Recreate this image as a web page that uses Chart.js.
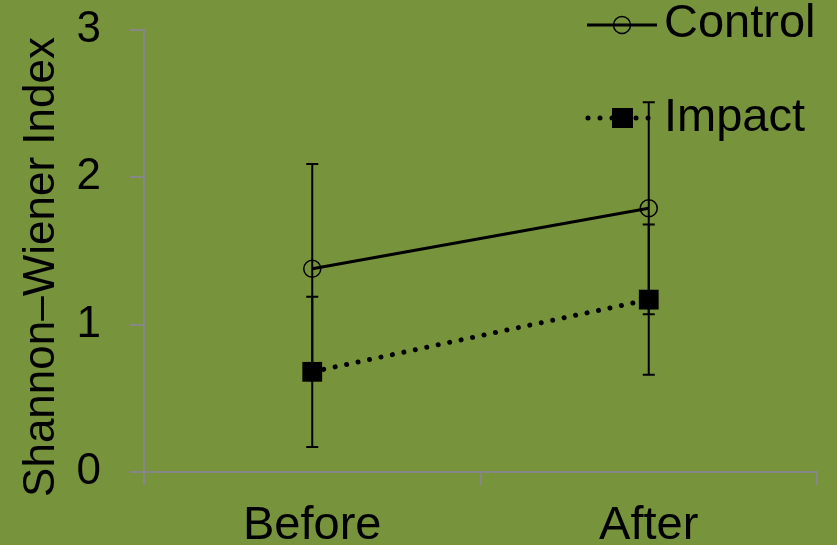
<!DOCTYPE html>
<html>
<head>
<meta charset="utf-8">
<style>
  html, body { margin: 0; padding: 0; background: #77933C; }
  #wrap { width: 837px; height: 545px; position: relative; }
</style>
<script src="https://cdn.jsdelivr.net/npm/chart.js@4/dist/chart.umd.min.js"></script>
</head>
<body>
<div id="wrap"><canvas id="c" width="837" height="545"></canvas></div>
<script>
// Shannon–Wiener diversity, means and error half-widths per period
const categories = ['Before', 'After'];
const controlMean = [1.38, 1.79];
const controlErr = [0.71, 0.72];
const impactMean = [0.68, 1.17];
const impactErr = [0.51, 0.51];
const yTicks = [0, 1, 2, 3];
const yTitle = 'Shannon\u2013Wiener Index';

const FONT = '"Liberation Sans", Arial, sans-serif';
const BG = '#77933C';
const AXIS = '#878787';

const errors = [controlErr, impactErr];

const background = {
  id: 'background',
  beforeDraw(chart) {
    const ctx = chart.ctx;
    ctx.save();
    ctx.fillStyle = BG;
    ctx.fillRect(0, 0, chart.width, chart.height);
    ctx.restore();
  }
};

// vertical error bars with caps, drawn beneath the markers
const errorBars = {
  id: 'errorBars',
  beforeDatasetsDraw(chart) {
    const ctx = chart.ctx;
    const y = chart.scales.y;
    ctx.save();
    ctx.strokeStyle = '#000';
    ctx.lineWidth = 2;
    chart.data.datasets.forEach((ds, i) => {
      const meta = chart.getDatasetMeta(i);
      ds.data.forEach((v, j) => {
        const x = meta.data[j].x;
        const top = y.getPixelForValue(v + errors[i][j]);
        const bot = y.getPixelForValue(v - errors[i][j]);
        ctx.beginPath();
        ctx.moveTo(x, top); ctx.lineTo(x, bot);
        ctx.moveTo(x - 6, top); ctx.lineTo(x + 6, top);
        ctx.moveTo(x - 6, bot); ctx.lineTo(x + 6, bot);
        ctx.stroke();
      });
    });
    ctx.restore();
  }
};

// legend with line + marker samples, and rotated y title
const annotations = {
  id: 'annotations',
  afterDraw(chart) {
    const ctx = chart.ctx;
    ctx.save();
    ctx.fillStyle = '#000';
    ctx.strokeStyle = '#000';
    ctx.font = '47px ' + FONT;
    ctx.textBaseline = 'middle';
    ctx.textAlign = 'left';

    // Control sample: solid line through an open circle
    ctx.lineWidth = 3;
    ctx.beginPath(); ctx.moveTo(587, 25); ctx.lineTo(657, 25); ctx.stroke();
    ctx.lineWidth = 1.5;
    ctx.beginPath(); ctx.arc(622, 25, 8.5, 0, Math.PI * 2); ctx.stroke();
    ctx.fillText(chart.data.datasets[0].label, 664, 24);

    // Impact sample: dotted line with a filled square
    ctx.lineWidth = 5;
    ctx.lineCap = 'round';
    ctx.setLineDash([0.01, 12]);
    ctx.beginPath(); ctx.moveTo(588, 118); ctx.lineTo(660, 118); ctx.stroke();
    ctx.setLineDash([]);
    ctx.fillRect(612, 108, 21, 20);
    ctx.fillText(chart.data.datasets[1].label, 664, 118);

    // y-axis title
    ctx.font = '44px ' + FONT;
    ctx.translate(42, 267);
    ctx.rotate(-Math.PI / 2);
    ctx.textAlign = 'center';
    ctx.fillText(yTitle, 0, 0);
    ctx.restore();
  }
};

new Chart(document.getElementById('c'), {
  type: 'line',
  data: {
    labels: categories,
    datasets: [
      {
        label: 'Control',
        data: controlMean,
        borderColor: '#000',
        borderWidth: 3,
        pointStyle: 'circle',
        pointRadius: 8.5,
        pointBorderWidth: 1.5,
        pointBorderColor: '#000',
        pointBackgroundColor: 'rgba(0,0,0,0)',
        tension: 0
      },
      {
        label: 'Impact',
        data: impactMean,
        borderColor: '#000',
        borderWidth: 5,
        borderDash: [0.01, 11.7],
        borderCapStyle: 'round',
        pointStyle: 'rect',
        pointRadius: 14,
        pointBorderWidth: 0,
        pointBackgroundColor: '#000',
        pointBorderColor: '#000',
        tension: 0
      }
    ]
  },
  options: {
    responsive: false,
    animation: false,
    devicePixelRatio: 1,
    layout: { padding: { left: 0, right: 20, top: 30, bottom: 0 } },
    plugins: { legend: { display: false }, tooltip: { enabled: false } },
    scales: {
      x: {
        type: 'category',
        offset: true,
        afterFit(s) { s.height = 73; s.paddingLeft = 0; s.paddingRight = 0; },
        grid: { offset: true, drawOnChartArea: false, drawTicks: true, tickLength: 13, color: AXIS, lineWidth: 2 },
        border: { display: true, color: AXIS, width: 2 },
        ticks: { color: '#000', font: { family: FONT, size: 47 }, padding: 13, maxRotation: 0 }
      },
      y: {
        min: 0, max: 3,
        afterFit(s) { s.width = 144; s.paddingTop = 0; s.paddingBottom = 0; },
        afterBuildTicks(s) { s.ticks = yTicks.map(v => ({ value: v })); },
        grid: { drawOnChartArea: false, drawTicks: true, tickLength: 14, color: AXIS, lineWidth: 2 },
        border: { display: true, color: AXIS, width: 2 },
        ticks: { color: '#000', font: { family: FONT, size: 44 }, padding: 29 }
      }
    }
  },
  plugins: [background, errorBars, annotations]
});
</script>
</body>
</html>
